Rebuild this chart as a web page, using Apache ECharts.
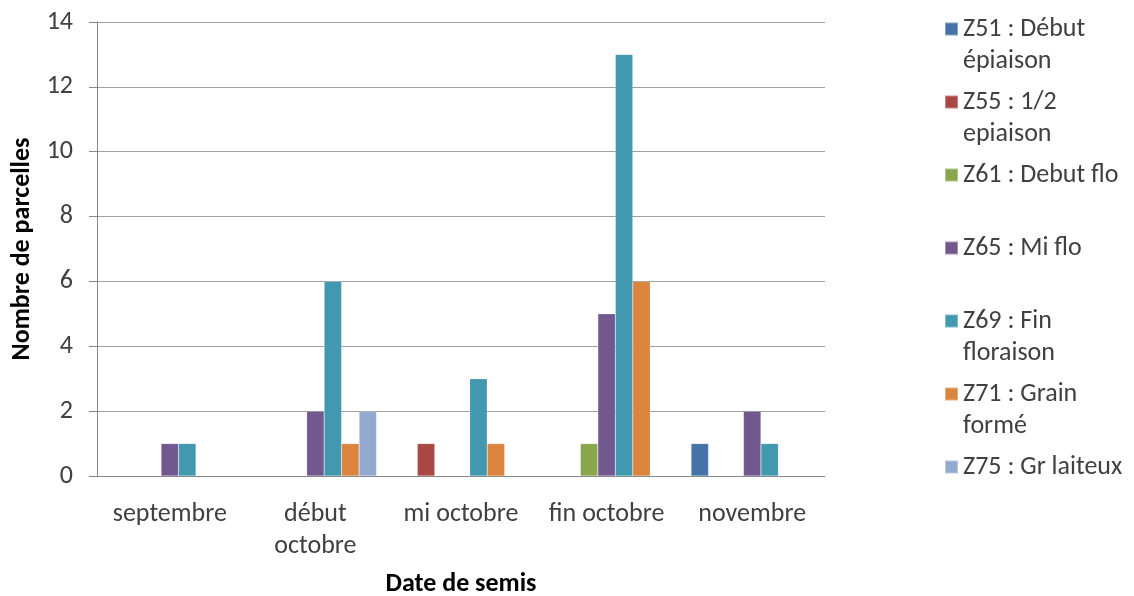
<!DOCTYPE html>
<html>
<head>
<meta charset="utf-8">
<script src="https://cdn.jsdelivr.net/npm/echarts@6/dist/echarts.min.js"></script>
<style>
html,body{margin:0;padding:0;background:#fff;}
#chart{width:1134px;height:596px;}
</style>
</head>
<body>
<div id="chart"></div>
<script>
const categories = ['septembre', 'début\noctobre', 'mi octobre', 'fin octobre', 'novembre'];
const seriesNames = ['Z51 : Début épiaison', 'Z55 : 1/2 epiaison', 'Z61 : Debut flo', 'Z65 : Mi flo', 'Z69 : Fin floraison', 'Z71 : Grain formé', 'Z75 : Gr laiteux'];
const legendLabels = ['Z51 : Début\népiaison', 'Z55 : 1/2\nepiaison', 'Z61 : Debut flo\n ', 'Z65 : Mi flo\n ', 'Z69 : Fin\nfloraison', 'Z71 : Grain\nformé', 'Z75 : Gr laiteux\n '];
const z51 = [null, null, null, null, 1];
const z55 = [null, null, 1, null, null];
const z61 = [null, null, null, 1, null];
const z65 = [1, 2, null, 5, 2];
const z69 = [1, 6, 3, 13, 1];
const z71 = [null, 1, 1, 6, null];
const z75 = [null, 2, null, null, null];
const yTicks = [0, 2, 4, 6, 8, 10, 12, 14];
const colors = ['#4572A7', '#AA4643', '#89A54E', '#71588F', '#4198AF', '#DB843D', '#93A9CF'];

const seriesData = [z51, z55, z61, z65, z69, z71, z75];
const FONT = 'Carlito, "Open Sans", sans-serif';

const chart = echarts.init(document.getElementById('chart'));
chart.setOption({
  animation: false,
  color: colors,
  grid: { left: 97, right: 309, top: 22, bottom: 120, containLabel: false, outerBoundsMode: 'none' },
  xAxis: {
    type: 'category',
    data: categories,
    name: 'Date de semis',
    nameLocation: 'middle',
    nameGap: 95,
    nameTextStyle: { fontFamily: FONT, fontSize: 26, fontWeight: 'bold', color: '#000' },
    axisLine: { lineStyle: { color: '#868686', width: 1 } },
    axisTick: { show: false },
    axisLabel: { fontFamily: FONT, fontSize: 26, color: '#404040', lineHeight: 32, margin: 22, interval: 0 }
  },
  yAxis: {
    type: 'value',
    min: yTicks[0],
    max: yTicks[yTicks.length - 1],
    interval: 2,
    name: 'Nombre de parcelles',
    nameLocation: 'middle',
    nameGap: 52,
    nameTextStyle: { fontFamily: FONT, fontSize: 26, fontWeight: 'bold', color: '#000' },
    axisLine: { show: true, lineStyle: { color: '#868686', width: 1 } },
    axisTick: { show: true, length: 8, lineStyle: { color: '#868686' } },
    axisLabel: { fontFamily: FONT, fontSize: 26, color: '#404040', margin: 24 },
    splitLine: { lineStyle: { color: '#A0A0A0', width: 1 } }
  },
  legend: {
    orient: 'vertical',
    left: 944,
    top: -19,
    padding: 0,
    itemGap: -23,
    itemWidth: 13,
    itemHeight: 13,
    icon: 'rect',
    data: seriesNames,
    formatter: function (name) { return '\n' + legendLabels[seriesNames.indexOf(name)]; },
    textStyle: { fontFamily: FONT, fontSize: 26, color: '#404040', lineHeight: 32 }
  },
  series: seriesNames.map(function (n, i) {
    return {
      name: n,
      type: 'bar',
      data: seriesData[i],
      barGap: '0%',
      barCategoryGap: '16%',
      itemStyle: { color: colors[i], borderColor: 'rgba(255,255,255,0.35)', borderWidth: 0.5 }
    };
  })
});
</script>
</body>
</html>
